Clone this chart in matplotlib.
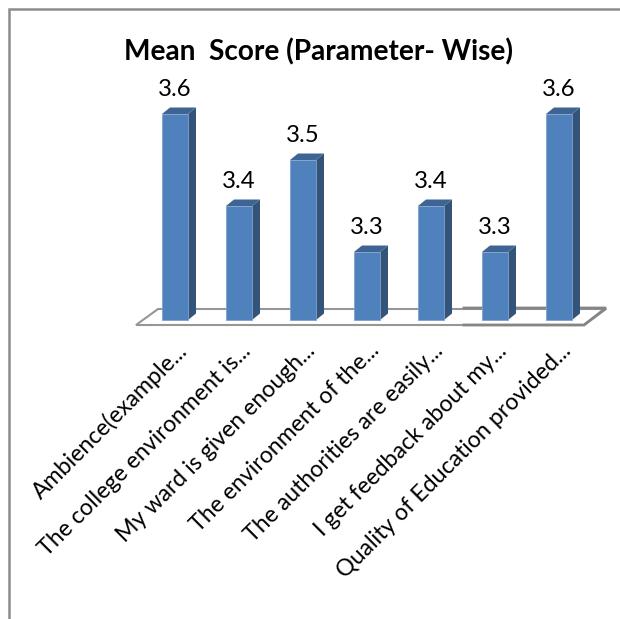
import matplotlib
matplotlib.use('Agg')
import matplotlib.pyplot as plt
from matplotlib.patches import Polygon

labels = ['Ambience(example...', 'The college environment is...', 'My ward is given enough...',
          'The environment of the...', 'The authorities are easily...', 'I get feedback about my...',
          'Quality of Education provided...']
scores = [3.6, 3.4, 3.5, 3.3, 3.4, 3.3, 3.6]
value_text = ['3.6', '3.4', '3.5', '3.3', '3.4', '3.3', '3.6']

plt.rcParams['font.family'] = ['Lato', 'DejaVu Sans']

W, H = 620, 619
fig = plt.figure(figsize=(W / 100, H / 100), dpi=100)
ax = fig.add_axes([0, 0, 1, 1])
ax.axis('off')

# one axes over the whole figure: 64 px per category, 460 px per score unit
ax.set_xlim(-175 / 64, (W - 175) / 64)
ax.set_ylim(3.6 - (H - 114) / 460, 3.6 + 114 / 460)
base = 3.6 - 206 / 460
width = 26 / 64
dx, dy = 8 / 64, 6.5 / 460

# outer frame of the original picture
ax.plot([-166 / 64, -166 / 64, 450 / 64], [2.4, 3.6 + 105 / 460, 3.6 + 105 / 460],
        color='#8c8c8c', lw=1.8, zorder=1, solid_joinstyle='miter')

# floor
fx = [-39 / 64, 409 / 64, 431 / 64, -17 / 64]
fy = [base - 5 / 460, base - 5 / 460, base + 11 / 460, base + 11 / 460]
ax.add_patch(Polygon(list(zip(fx, fy)), closed=True, fc='white', ec='#969696', lw=1.5, zorder=2))
# right part of the floor is drawn heavier in the reference
ax.plot([289 / 64, 431 / 64, 409 / 64, 289 / 64],
        [base + 12 / 460, base + 12 / 460, base - 5 / 460, base - 5 / 460],
        color='#858585', lw=2.0, zorder=2.5, solid_joinstyle='miter')

xs = list(range(len(scores)))
ax.bar(xs, [s - base for s in scores], width=width, bottom=base, color='#4f81bd',
       edgecolor='#7f9fcc', linewidth=0.6, zorder=4)
for x, s, t in zip(xs, scores, value_text):
    r = x + width / 2
    l = x - width / 2
    ax.add_patch(Polygon([(r, base), (r + dx, base + dy), (r + dx, s + dy), (r, s)],
                         closed=True, fc='#335478', ec='none', zorder=3))
    ax.add_patch(Polygon([(l, s), (r, s), (r + dx, s + dy), (l + dx, s + dy)],
                         closed=True, fc='#3e6494', ec='none', zorder=3))
    ax.text(x, s + 14 / 460, t, ha='center', va='bottom', fontsize=17.2, color='black', zorder=5)

for x, lab in zip(xs, labels):
    ax.text(x + 1 / 64, base - 20 / 460, lab, rotation=45, ha='right', va='top',
            rotation_mode='anchor', fontsize=16.7, color='black', zorder=5)

ax.text(318 / 64 - 175 / 64, 3.6 + 62 / 460, 'Mean  Score (Parameter- Wise)', ha='center', va='center',
        fontsize=20.2, fontweight='bold', color='black', zorder=5)

fig.savefig('out.png', dpi=100)
